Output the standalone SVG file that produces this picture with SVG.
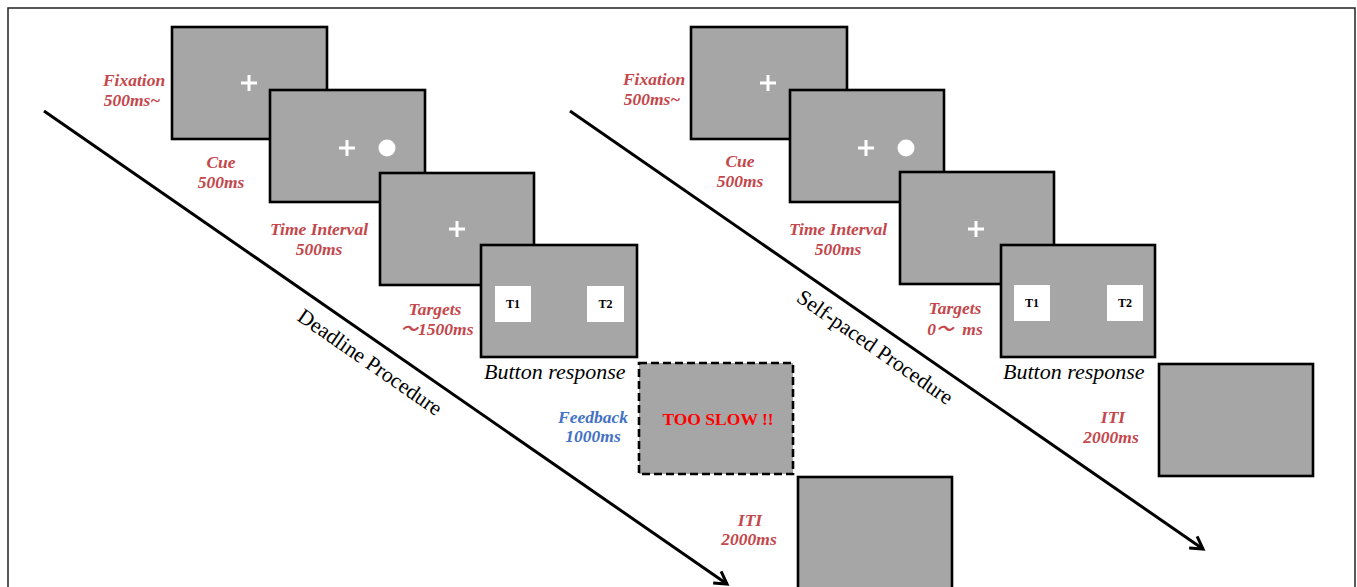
<svg xmlns="http://www.w3.org/2000/svg" width="1357" height="587" viewBox="0 0 1357 587">
<defs>
<style>
.scr{fill:#a6a6a6;stroke:#000;stroke-width:2.6}
.dash{fill:#a6a6a6;stroke:#000;stroke-width:2.6;stroke-dasharray:8 4}
.cross{stroke:#fff;stroke-width:3;fill:none}
.tgt{fill:#fff}
.tt{font-family:"Liberation Serif",serif;font-weight:bold;font-size:12px;fill:#000;text-anchor:middle}
.lbl{font-family:"Liberation Serif","Noto Sans CJK JP",serif;font-weight:bold;font-style:italic;font-size:17.5px;fill:#c4474b;text-anchor:middle}
.blue{fill:#4472c4}
.btn{font-family:"Liberation Serif",serif;font-style:italic;font-size:22px;fill:#000}
.proc{font-family:"Liberation Serif",serif;font-size:21.5px;fill:#000;text-anchor:middle}
.slow{font-family:"Liberation Serif",serif;font-weight:bold;font-size:17.5px;fill:#ff0000;text-anchor:middle}
.arrow{stroke:#000;stroke-width:3;fill:none;marker-end:url(#head)}
</style>
<marker id="head" markerUnits="userSpaceOnUse" viewBox="-16 -10 20 20" refX="0" refY="0" markerWidth="20" markerHeight="20" orient="auto" overflow="visible">
<path d="M -12 -7 L 0 0 L -12 7" fill="none" stroke="#000" stroke-width="3"/>
</marker>
</defs>
<rect width="1357" height="587" fill="#fff"/>
<path d="M8 587 V8 H1355 V587" fill="none" stroke="#222" stroke-width="1.5"/>

<g id="connectors">
<line class="arrow" x1="44" y1="111" x2="727" y2="584"/>
<line class="arrow" x1="570" y1="111" x2="1203" y2="549"/>
</g>

<g id="deadline-title"><text class="proc" transform="translate(366,368) rotate(34.7)">Deadline Procedure</text></g>
<g id="selfpaced-title"><text class="proc" transform="translate(871,353) rotate(34.7)">Self-paced Procedure</text></g>

<!-- Left panel -->
<g id="L-fixation">
<rect class="scr" x="172" y="27" width="155" height="112"/>
<path class="cross" d="M241 83 H257 M249 75 V91"/>
<text class="lbl" x="134" y="86">Fixation</text>
<text class="lbl" x="132" y="106">500ms~</text>
</g>
<g id="L-cue">
<rect class="scr" x="270" y="90" width="155" height="112"/>
<path class="cross" d="M339 148 H355 M347 140 V156"/>
<circle cx="387" cy="148" r="8.5" fill="#fff"/>
<text class="lbl" x="221" y="168">Cue</text>
<text class="lbl" x="221" y="188">500ms</text>
</g>
<g id="L-interval">
<rect class="scr" x="380" y="173" width="154" height="112"/>
<path class="cross" d="M449 229 H465 M457 221 V237"/>
<text class="lbl" x="319" y="235">Time Interval</text>
<text class="lbl" x="319" y="255">500ms</text>
</g>
<g id="L-targets">
<rect class="scr" x="481" y="245" width="156" height="112"/>
<rect class="tgt" x="495" y="286" width="36" height="36"/>
<rect class="tgt" x="587" y="286" width="37" height="36"/>
<text class="tt" x="513" y="308">T1</text>
<text class="tt" x="605.5" y="308">T2</text>
<text class="lbl" x="435" y="315">Targets</text>
<text class="lbl" x="437" y="335">～1500ms</text>
<text class="btn" x="484" y="379">Button response</text>
</g>
<g id="L-feedback">
<rect class="dash" x="639" y="363" width="154" height="111"/>
<text class="slow" x="718" y="425">TOO SLOW !!</text>
<text class="lbl blue" x="593" y="423">Feedback</text>
<text class="lbl blue" x="593" y="442">1000ms</text>
</g>
<g id="L-iti">
<rect class="scr" x="798" y="477" width="154" height="120"/>
<text class="lbl" x="750" y="526">ITI</text>
<text class="lbl" x="749" y="545">2000ms</text>
</g>

<!-- Right panel -->
<g id="R-fixation">
<rect class="scr" x="691" y="27" width="156" height="112"/>
<path class="cross" d="M760 83 H776 M768 75 V91"/>
<text class="lbl" x="654" y="85">Fixation</text>
<text class="lbl" x="652" y="105">500ms~</text>
</g>
<g id="R-cue">
<rect class="scr" x="790" y="90" width="154" height="112"/>
<path class="cross" d="M858 148 H874 M866 140 V156"/>
<circle cx="906" cy="148" r="8.5" fill="#fff"/>
<text class="lbl" x="740" y="167">Cue</text>
<text class="lbl" x="740" y="187">500ms</text>
</g>
<g id="R-interval">
<rect class="scr" x="900" y="172" width="154" height="112"/>
<path class="cross" d="M968 229 H984 M976 221 V237"/>
<text class="lbl" x="838" y="235">Time Interval</text>
<text class="lbl" x="838" y="255">500ms</text>
</g>
<g id="R-targets">
<rect class="scr" x="1001" y="245" width="154" height="112"/>
<rect class="tgt" x="1014" y="285" width="36" height="36"/>
<rect class="tgt" x="1107" y="285" width="36" height="36"/>
<text class="tt" x="1032" y="307">T1</text>
<text class="tt" x="1125" y="307">T2</text>
<text class="lbl" x="955" y="314">Targets</text>
<text class="lbl" x="955" y="335" xml:space="preserve">0～  ms</text>
<text class="btn" x="1003" y="379">Button response</text>
</g>
<g id="R-iti">
<rect class="scr" x="1159" y="364" width="154" height="112"/>
<text class="lbl" x="1113" y="423">ITI</text>
<text class="lbl" x="1111" y="443">2000ms</text>
</g>
</svg>
